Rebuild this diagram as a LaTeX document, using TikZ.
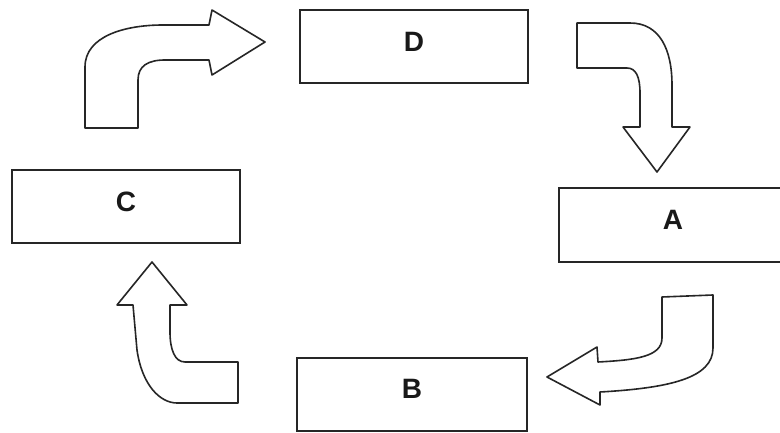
\documentclass[tikz,border=0pt]{standalone}
\usepackage{fontspec}
\setmainfont{Liberation Sans}
\begin{document}
\begin{tikzpicture}[x=1pt,y=-1pt,
  box/.style={draw=black!85,line width=1.6pt,fill=white,inner sep=0pt},
  lbl/.style={font=\bfseries\fontsize{28}{32}\selectfont,inner sep=0pt,text=black!90},
  barrow/.style={draw=black!85,line width=1.6pt,line join=round,fill=white}]
\clip (0,0) rectangle (780,433);
\fill[white] (0,0) rectangle (780,433);
% boxes
\node[box,minimum width=228pt,minimum height=73pt] (d) at (414,46.5) {};
\node[box,minimum width=228pt,minimum height=73pt] (c) at (126,206.5) {};
\node[box,minimum width=226pt,minimum height=74pt] (a) at (672,225) {};
\node[box,minimum width=230pt,minimum height=73pt] (b) at (412,394.5) {};
\node[lbl] (dl) at ([yshift=5pt]d.center) {D};
\node[lbl] (cl) at ([yshift=5pt]c.center) {C};
\node[lbl] (al) at ([yshift=5pt,xshift=1pt]a.center) {A};
\node[lbl] (bl) at ([yshift=6pt]b.center) {B};
% arrow C -> D
\draw[barrow] (85,128) -- (85,67) .. controls (85,36) and (125,25) .. (163,25)
  -- (209,25) -- (212,10) -- (265,42) -- (212,75) -- (209,60) -- (165,60)
  .. controls (148,60) and (138,66) .. (138,80) -- (138,128) -- cycle;
% arrow D -> A
\draw[barrow] (577,23) -- (630,23) .. controls (660,23) and (672,50) .. (672,85)
  -- (672,127) -- (690,127) -- (657,172) -- (623,127) -- (640,127) -- (640,93)
  .. controls (640,77) and (636,68) .. (627,68) -- (577,68) -- cycle;
% arrow A -> B
\draw[barrow] (662,297) -- (713,295) -- (713,348) .. controls (713,378) and (670,388) .. (600,392)
  -- (600,405) -- (547,377) -- (597,347) -- (598,362)
  .. controls (635,360) and (662,357) .. (662,338) -- cycle;
% arrow B -> C
\draw[barrow] (238,403) -- (238,362) -- (185,362) .. controls (175,362) and (170,350) .. (170,332)
  -- (170,305) -- (187,305) -- (152,262) -- (117,305) -- (133,305) -- (137,350)
  .. controls (142,385) and (160,403) .. (177,403) -- cycle;
\end{tikzpicture}
\end{document}
